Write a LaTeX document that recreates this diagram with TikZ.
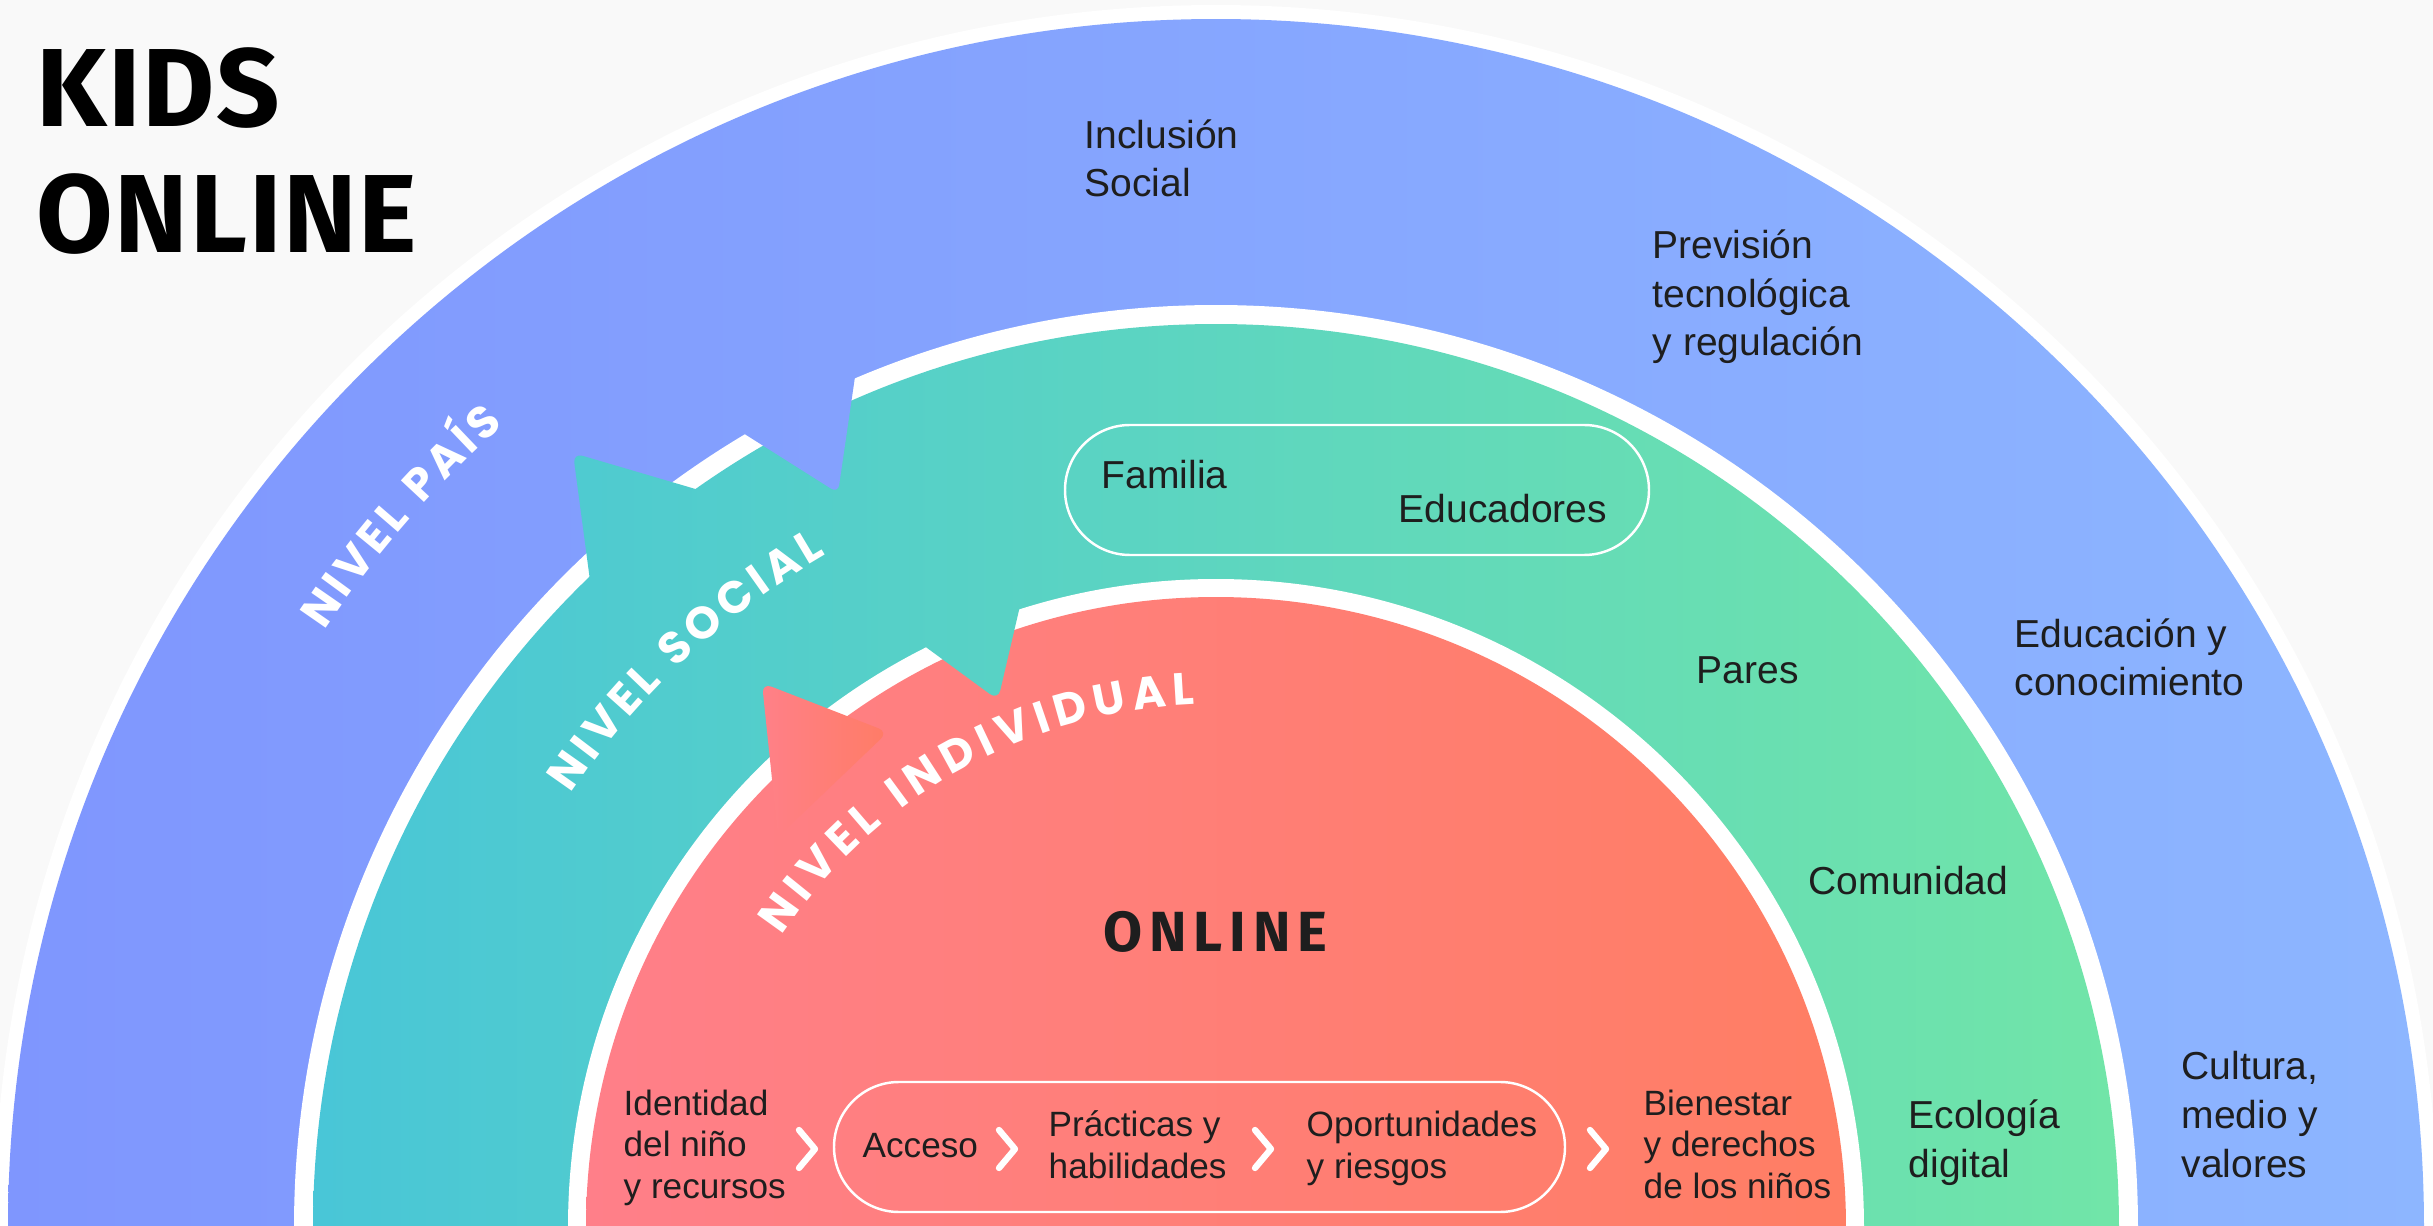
\documentclass[tikz,border=0pt]{standalone}
\usepackage{fontspec}
\setmainfont{Liberation Sans}
\newfontfamily\fira{Fira Sans}[LetterSpace=1.5]
\newfontfamily\firaspaced{Fira Sans}[LetterSpace=12]
\newfontfamily\pop{Poppins}
\usetikzlibrary{decorations.text}
\definecolor{bg}{HTML}{F9F9F9}
\definecolor{blueL}{RGB}{127,150,254}
\definecolor{blueR}{RGB}{141,182,255}
\definecolor{tealL}{RGB}{73,198,215}
\definecolor{tealR}{RGB}{113,229,168}
\definecolor{redL}{RGB}{255,127,137}
\definecolor{redR}{RGB}{255,126,100}
\definecolor{triL}{RGB}{255,128,136}
\definecolor{triR}{RGB}{255,124,102}
\definecolor{ink}{HTML}{1E1E1E}
\begin{document}
\begin{tikzpicture}[x=0.1mm,y=0.1mm,
  lbl/.style={anchor=base west, inner sep=0pt, text=ink, align=left, font=\fontsize{11.1}{13.8}\selectfont},
  sml/.style={anchor=base west, inner sep=0pt, text=ink, align=left, font=\fontsize{10}{11.8}\selectfont},
  pill/.style={draw=white, line width=0.7pt, rounded corners=6.5mm},
  chev/.style={draw=white, line width=1.8pt, line cap=round, line join=round},
  nivel/.style={decorate, decoration={text along path, text align=fit to path, text={|\color{white}\pop\bfseries\fontsize{12.8}{14}\selectfont|#1}}}
  ]
\useasboundingbox (0,0) rectangle (2433,1225);
\clip (0,0) rectangle (2433,1225);
\fill[bg] (0,0) rectangle (2433,1225);
\coordinate (C) at (1216,-2);
% rings
\fill[white] (C) circle[radius=122.2mm];
\begin{scope}
  \clip (C) circle[radius=120.8mm];
  \shade[left color=blueL, right color=blueR] (0,0) rectangle (2433,1225);
\end{scope}
\fill[white] (C) circle[radius=92.2mm];
\begin{scope}
  \clip (C) circle[radius=90.3mm];
  \shade[left color=tealL, right color=tealR] (313,0) rectangle (2119,1225);
\end{scope}
\fill[white] (C) circle[radius=64.8mm];
\begin{scope}
  \clip (C) circle[radius=63mm];
  \shade[left color=redL, right color=redR] (586,0) rectangle (1846,1225);
\end{scope}
% arrow shapes
\coordinate (tbA) at (573,772);
\coordinate (tbB) at (811,702);
\coordinate (tbC) at (599,577);
\coordinate (tnT) at (998,525);
\coordinate (tnB) at (848,635);
\coordinate (tnC) at (1038,696);
\coordinate (bnT) at (838,732);
\coordinate (bnB) at (667,840);
\coordinate (bnC) at (869,944);
\coordinate (rt1) at (762,542);
\coordinate (rt2) at (888,493);
\coordinate (rt3) at (778,388);
\begin{scope}
  \clip[rounded corners=1mm] (tbA) -- (tbB) -- (tbC) -- cycle;
  \shade[left color=tealL, right color=tealR] (313,0) rectangle (2119,1225);
\end{scope}
\begin{scope}
  \clip[rounded corners=1mm] (tnT) -- (tnC) -- (tnB) -- cycle;
  \shade[left color=tealL, right color=tealR] (313,0) rectangle (2119,1225);
\end{scope}
\begin{scope}
  \clip[rounded corners=0.8mm] (bnT) -- (bnB) -- (bnC) -- cycle;
  \shade[left color=blueL, right color=blueR] (0,0) rectangle (2433,1225);
\end{scope}
\shade[left color=triL, right color=triR, rounded corners=1mm] (rt1) -- (rt2) -- (rt3) -- cycle;
% curved level labels
\path[nivel={NIVEL PAÍS}] (C) ++(146.2:107.3mm) arc[start angle=146.2, end angle=131.6, radius=107.3mm];
\path[nivel={NIVEL SOCIAL}] (C) ++(146.1:77.7mm) arc[start angle=146.1, end angle=120.1, radius=77.7mm];
\path[nivel={NIVEL INDIVIDUAL}] (C) ++(146.2:52.3mm) arc[start angle=146.2, end angle=92.3, radius=52.3mm];
% title
\node[anchor=base west, inner sep=0pt, align=left, font=\fira\bfseries\fontsize{31.6}{35.9}\selectfont] (title) at (36,972) {KIDS\\ONLINE};
\node[anchor=base west, inner sep=0pt, text=ink, font=\firaspaced\bfseries\fontsize{16.1}{16}\selectfont] (online) at (1103,273) {ONLINE};
% country level
\node[lbl] (incl) at (1084,1028) {Inclusión\\Social};
\node[lbl] (prev) at (1652,869) {Previsión\\tecnológica\\y regulación};
\node[lbl] (educ) at (2014,529) {Educación y\\conocimiento};
\node[lbl] (cult) at (2181,48) {Cultura,\\medio y\\valores};
% social level
\node[lbl] (ecol) at (1908,48) {Ecología\\digital};
\node[lbl] (comu) at (1808,330) {Comunidad};
\node[lbl] (pares) at (1696,541) {Pares};
\draw[pill] (1065,800) rectangle (1649,670);
\node[lbl] (fam) at (1101,736) {Familia};
\node[lbl] (edu) at (1398,702) {Educadores};
% individual level
\draw[pill] (834,143) rectangle (1565,13);
\node[sml] (iden) at (623,27) {Identidad\\del niño\\y recursos};
\node[sml] (acc) at (862,67) {Acceso};
\node[sml] (prac) at (1048,47) {Prácticas y\\habilidades};
\node[sml] (opor) at (1306,47) {Oportunidades\\y riesgos};
\node[sml] (bien) at (1643,27) {Bienestar\\y derechos\\de los niños};
\foreach \cx in {807,1007,1263,1598} {
  \draw[chev] (\cx-8,95) -- (\cx+8,76) -- (\cx-8,57);
}
\end{tikzpicture}
\end{document}
